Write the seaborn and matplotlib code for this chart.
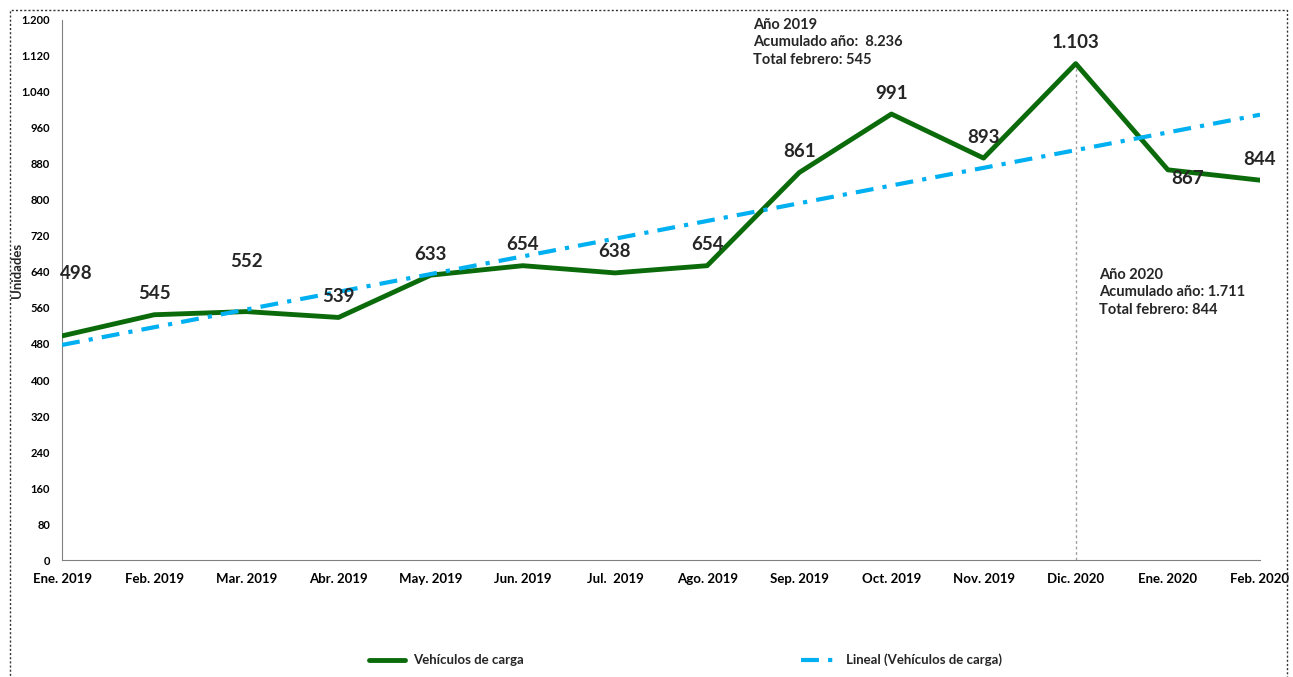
import numpy as np
import pandas as pd
import seaborn as sns
import matplotlib.pyplot as plt
from matplotlib.patches import Rectangle
from matplotlib.ticker import FuncFormatter

#%% datos
meses = ['Ene. 2019', 'Feb. 2019', 'Mar. 2019', 'Abr. 2019', 'May. 2019', 'Jun. 2019',
         'Jul.  2019', 'Ago. 2019', 'Sep. 2019', 'Oct. 2019', 'Nov. 2019', 'Dic. 2020',
         'Ene. 2020', 'Feb. 2020']
unidades = [498, 545, 552, 539, 633, 654, 638, 654, 861, 991, 893, 1103, 867, 844]
nota_2019 = 'Año 2019\nAcumulado año:  8.236\nTotal febrero: 545'
nota_2020 = 'Año 2020\nAcumulado año: 1.711\nTotal febrero: 844'

df = pd.DataFrame({'idx': range(len(meses)), 'mes': meses, 'unidades': unidades})

# tendencia lineal (como la de Excel)
coef = np.polyfit(df['idx'], df['unidades'], 1)
df['lineal'] = np.polyval(coef, df['idx'])

#%% figura
sns.set_style('white')
plt.rcParams['font.family'] = ['Lato', 'DejaVu Sans']
plt.rcParams['font.weight'] = 'bold'

fig = plt.figure(figsize=(12.93, 6.77), dpi=100)
ax = fig.add_axes([0.048, 0.1728, 0.9265, 0.7977])

verde = '#0B6B0B'
azul = '#00B0F0'

sns.lineplot(data=df, x='idx', y='unidades', ax=ax, color=verde, linewidth=3.5,
             label='Vehículos de carga', zorder=3)
sns.lineplot(data=df, x='idx', y='lineal', ax=ax, color=azul, linewidth=3,
             label='Lineal (Vehículos de carga)', zorder=4)
ax.lines[1].set_dashes([4.3, 2.2, 1, 2.2])

# linea vertical en el maximo
imax = int(np.argmax(unidades))
ax.vlines(imax, 0, unidades[imax], colors='#A0A0A0', linestyles=(0, (2, 2)), linewidth=1, zorder=2)

# etiquetas de datos (desplazamiento en puntos)
desplaz = {0: (10, 39), 2: (0, 30), 12: (14, -12)}
for i, v in enumerate(unidades):
    dx, dy = desplaz.get(i, (0, 9))
    txt = f'{v:,}'.replace(',', '.')
    ax.annotate(txt, (i, v), xytext=(dx, dy), textcoords='offset points',
                ha='center', va='bottom', fontsize=13.5, fontweight='bold', zorder=5)

ax.text(7.5, 1204, nota_2019, ha='left', va='top', fontsize=10.5, fontweight='bold', linespacing=1.3)
ax.text(11.25, 649, nota_2020, ha='left', va='top', fontsize=10.5, fontweight='bold', linespacing=1.3)

ax.set_xlim(0, len(meses) - 1)
ax.set_ylim(0, 1200)
ax.set_yticks(range(0, 1201, 80))
ax.yaxis.set_major_formatter(FuncFormatter(lambda v, p: f'{int(v):,}'.replace(',', '.')))
ax.set_xticks(range(len(meses)))
ax.set_xticklabels(meses)
for k, t in enumerate(ax.xaxis.get_major_ticks()):
    if k % 2 == 1:
        t.tick1line.set_visible(False)

ax.tick_params(axis='both', labelsize=8, colors='#000000', length=5, width=1, direction='out')
ax.tick_params(axis='x', labelsize=9.5, pad=4)
ax.tick_params(axis='both', color='#808080')
for t in ax.get_xticklabels() + ax.get_yticklabels():
    t.set_fontweight('bold')

sns.despine(ax=ax)
ax.spines['left'].set_color('#808080')
ax.spines['bottom'].set_color('#808080')
ax.set_xlabel('')
ax.set_ylabel('Unidades', fontsize=9.5, fontweight='bold')
ax.yaxis.set_label_coords(-0.033, 0.537)

ax.get_legend().remove()
h, l = ax.get_legend_handles_labels()
fig.legend(h, l, loc='center', bbox_to_anchor=(0.53, 0.025), ncol=2, frameon=False,
           columnspacing=21, handlelength=2.8, handletextpad=0.6,
           prop={'size': 9.5, 'weight': 'bold'})

# borde punteado
fig.patches.append(Rectangle((10 / 1293, -0.02), 1 - 16 / 1293, 1.02 - 10 / 677,
                             transform=fig.transFigure, fill=False, edgecolor='#333333',
                             linestyle=(0, (1.5, 1.5)), linewidth=1))

fig.savefig('out.png', dpi=100)
